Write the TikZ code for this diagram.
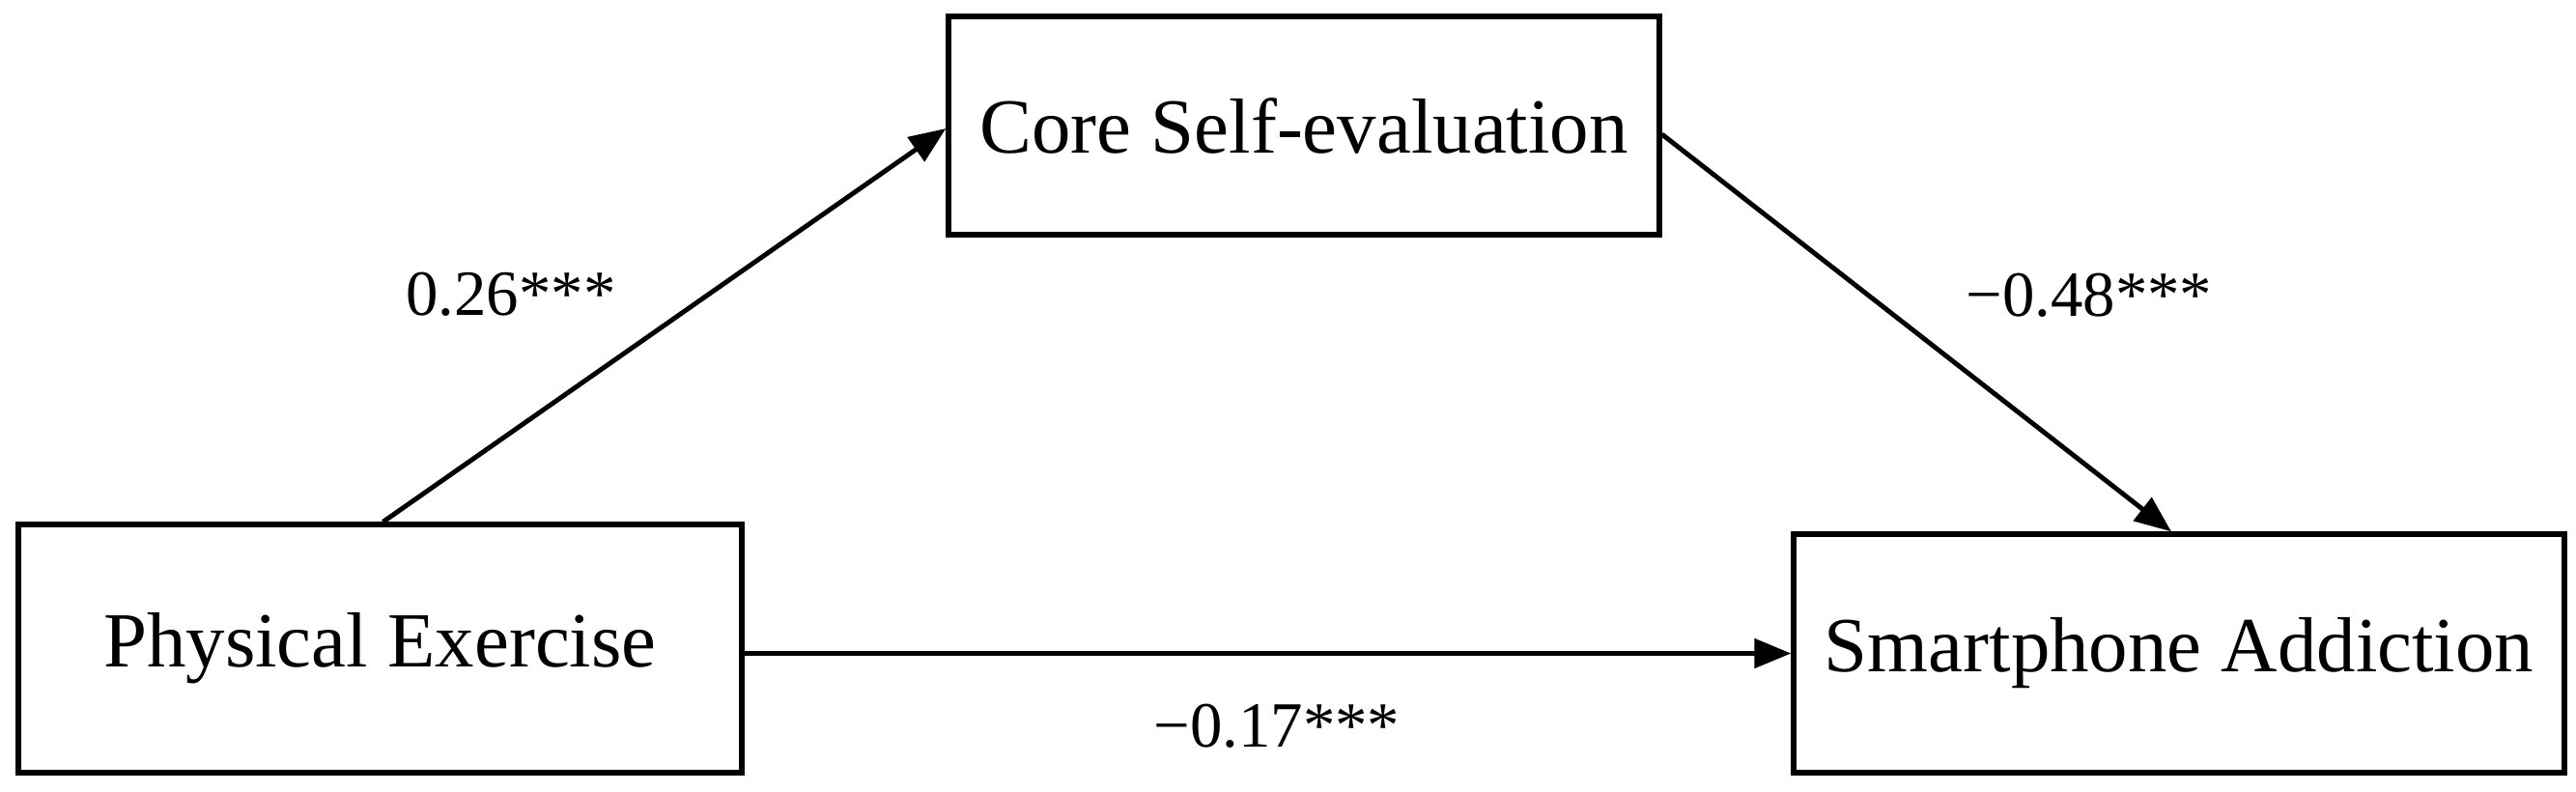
\documentclass[tikz,border=0pt]{standalone}
\usepackage{fontspec}
\setmainfont{Liberation Serif}
\usetikzlibrary{arrows.meta}
\tikzset{
  varbox/.style={draw, line width=1.5pt, inner sep=0pt, align=center,
    font=\fontsize{23}{27}\selectfont},
  path/.style={line width=1.4pt, -{Triangle[length=0.38cm,width=0.3cm]}},
  coef/.style={font=\fontsize{19}{23}\selectfont}
}
\begin{document}
\begin{tikzpicture}
    \useasboundingbox (0,0) rectangle (26.67,-8.19);
    % variables
    \node[varbox, minimum width=7.36cm, minimum height=2.26cm] (cse) at (13.50,-1.30) {Core Self-evaluation};
    \node[varbox, minimum width=7.49cm, minimum height=2.57cm] (pe) at (3.935,-6.715) {Physical Exercise};
    \node[varbox, minimum width=7.98cm, minimum height=2.47cm] (sa) at (22.56,-6.765) {Smartphone Addiction};
    % paths
    \draw[path] ([xshift=0.03cm]pe.north) -- ([yshift=-0.03cm]cse.west);
    \draw[path] ([yshift=-0.09cm]cse.east) -- ([xshift=-0.08cm]sa.north);
    \draw[path] ([yshift=-0.05cm]pe.east) -- ([yshift=-0.05cm]pe.east -| sa.west);
    % coefficients
    \node[coef] (a) at (5.29,-3.05) {0.26***};
    \node[coef] (b) at (21.63,-3.06) {−0.48***};
    \node[coef] (c) at (13.22,-7.52) {−0.17***};
\end{tikzpicture}
\end{document}
